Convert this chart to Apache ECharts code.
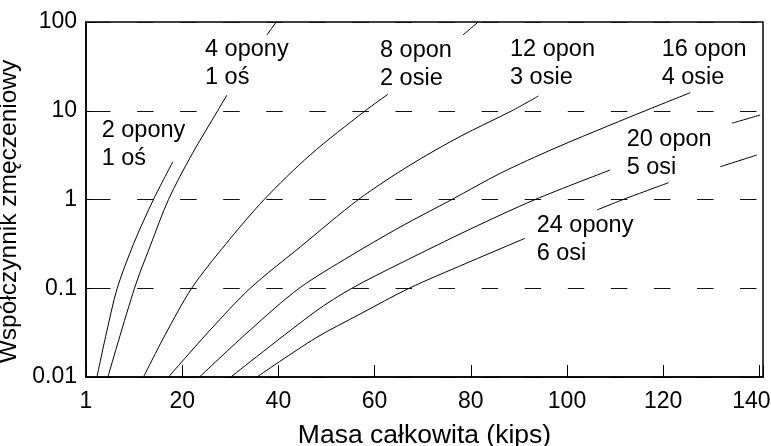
<!DOCTYPE html>
<html><head><meta charset="utf-8">
<script src="https://cdn.jsdelivr.net/npm/echarts@6/dist/echarts.min.js"></script>
<style>html,body{margin:0;padding:0;background:#fff}#c{width:771px;height:446px}</style>
</head><body><div id="c"></div>
<script>
// Tick labels
const xTickValues = [0, 20, 40, 60, 80, 100, 120, 140];
const xTickLabels = ['1', '20', '40', '60', '80', '100', '120', '140'];
const yTickValues = [0.01, 0.1, 1, 10, 100];
const yTickLabels = ['0.01', '0.1', '1', '10', '100'];

// Curves: total mass (kips) vs fatigue factor; null = gap where a label sits
const c1x = [2.27, 4.20, 6.49, 10.02, 14.03, 18.07];
const c1y = [0.01, 0.0305, 0.1, 0.329, 1, 2.67];
const c2x = [4.55, 10.08, 13.35, 17.15, 22.08, 27.38, 29.29, null, 37.61, 39.54];
const c2y = [0.01, 0.1, 0.299, 1, 3.27, 10, 15.0, null, 71.4, 100];
const c3x = [11.95, 16.47, 21.97, 28.94, 37.05, 46.61, 58.05, 62.76, null, 78.36, 81.54];
const c3y = [0.01, 0.030, 0.1, 0.309, 1, 3.18, 10, 15.3, null, 71.4, 100];
const c4x = [17.15, 25.82, 34.14, 44.53, 56.65, 67.40, 77.78, 88.54, 94.07];
const c4y = [0.01, 0.0339, 0.1, 0.2917, 1, 2.448, 5.128, 10, 14.66];
const c5x = [23.6, 34.14, 44.32, 54.93, 65.32, 76.07, 86.1, 97.55, 108.99, 116.26, 125.61];
const c5y = [0.01, 0.0339, 0.1, 0.2307, 0.490, 1, 1.97, 3.80, 6.9, 10, 15.97];
const c6x = [30.12, 47.65, 55.28, 65.32, 79.88, 93.39, 108.99, null, 134.28, 140.17];
const c6y = [0.01, 0.0545, 0.1, 0.1905, 0.4637, 1, 2.15, null, 7.23, 8.95];
const c7x = [35.53, 47.65, 57.0, 67.19, 78.84, 91.31, null, 106.22, 111.68, 121.1, null, 131.85, 139.48];
const c7y = [0.01, 0.0273, 0.0513, 0.1, 0.189, 0.366, null, 0.762, 1, 1.546, null, 2.34, 3.17];

const curveLabels = ['2 opony\n1 oś', '4 opony\n1 oś', '8 opon\n2 osie', '12 opon\n3 osie',
                     '16 opon\n4 osie', '20 opon\n5 osi', '24 opony\n6 osi'];

const FONT = "'Liberation Sans', Arial, sans-serif";

function pts(xs, ys) {
  return xs.map((x, i) => (ys[i] === null || x === null) ? ['-', '-'] : [x, ys[i]]);
}
const curves = [[c1x, c1y], [c2x, c2y], [c3x, c3y], [c4x, c4y], [c5x, c5y], [c6x, c6y], [c7x, c7y]];

// label placements (pixel, top-left of text block)
const labelPos = [[101.7, 117], [205, 35.4], [380, 37], [510, 36], [661.7, 36], [626.7, 125.4], [536.7, 212]];

const chart = echarts.init(document.getElementById('c'), null, {renderer: 'canvas'});
chart.setOption({
  animation: false,
  backgroundColor: '#fff',
  grid: {left: 86, right: 8, top: 22, bottom: 69, containLabel: false, outerBoundsMode: 'none',
         show: true, borderColor: '#000', borderWidth: 1.5, backgroundColor: 'transparent'},
  xAxis: {
    type: 'value', min: 0, max: 140.75, interval: 20,
    name: 'Masa całkowita (kips)', nameLocation: 'middle', nameGap: 45,
    nameTextStyle: {fontFamily: FONT, fontSize: 26.5, color: '#000'},
    axisLine: {show: true, lineStyle: {color: '#000', width: 1.5}},
    axisTick: {show: true, inside: true, length: 12, lineStyle: {color: '#000', width: 1}},
    splitLine: {show: false},
    axisLabel: {
      fontFamily: FONT, fontSize: 23, color: '#000', margin: 13,
      formatter: function (v) {
        const i = xTickValues.indexOf(v);
        if (i < 0) return '';
        if (v === 140) return '{r|' + xTickLabels[i] + '}';
        return xTickLabels[i];
      },
      rich: {r: {fontFamily: FONT, fontSize: 23, color: '#000', padding: [0, 16, 0, 0]}}
    }
  },
  yAxis: {
    type: 'log', logBase: 10, min: 0.01, max: 100,
    name: 'Współczynnik zmęczeniowy', nameLocation: 'middle', nameGap: 50,
    nameTextStyle: {fontFamily: FONT, fontSize: 24.5, color: '#000', padding: [0, 24, 0, 0]},
    axisLine: {show: true, lineStyle: {color: '#000', width: 1.5}},
    axisTick: {show: true, inside: true, length: 8, lineStyle: {color: '#000', width: 1}},
    minorTick: {show: false},
    splitLine: {show: true, lineStyle: {color: '#111', width: 1, type: [16.5, 26.57], dashOffset: 35.07}},
    axisLabel: {
      fontFamily: FONT, fontSize: 23, color: '#000', margin: 9,
      formatter: function (v) {
        for (let i = 0; i < yTickValues.length; i++) {
          if (Math.abs(Math.log10(v) - Math.log10(yTickValues[i])) < 1e-6) return yTickLabels[i];
        }
        return '';
      }
    }
  },
  series: curves.map((c) => ({
    type: 'line', data: pts(c[0], c[1]), showSymbol: false, symbol: 'none',
    smooth: 0.3, connectNulls: false, silent: true,
    lineStyle: {color: '#000', width: 1}
  })),
  graphic: curveLabels.map((t, i) => ({
    type: 'text', x: labelPos[i][0], y: labelPos[i][1], silent: true, z: 100,
    style: {text: t, fontFamily: FONT, fontSize: 23.5, fill: '#000', lineHeight: 28, verticalAlign: 'top', align: 'left'}
  }))
});
</script></body></html>
